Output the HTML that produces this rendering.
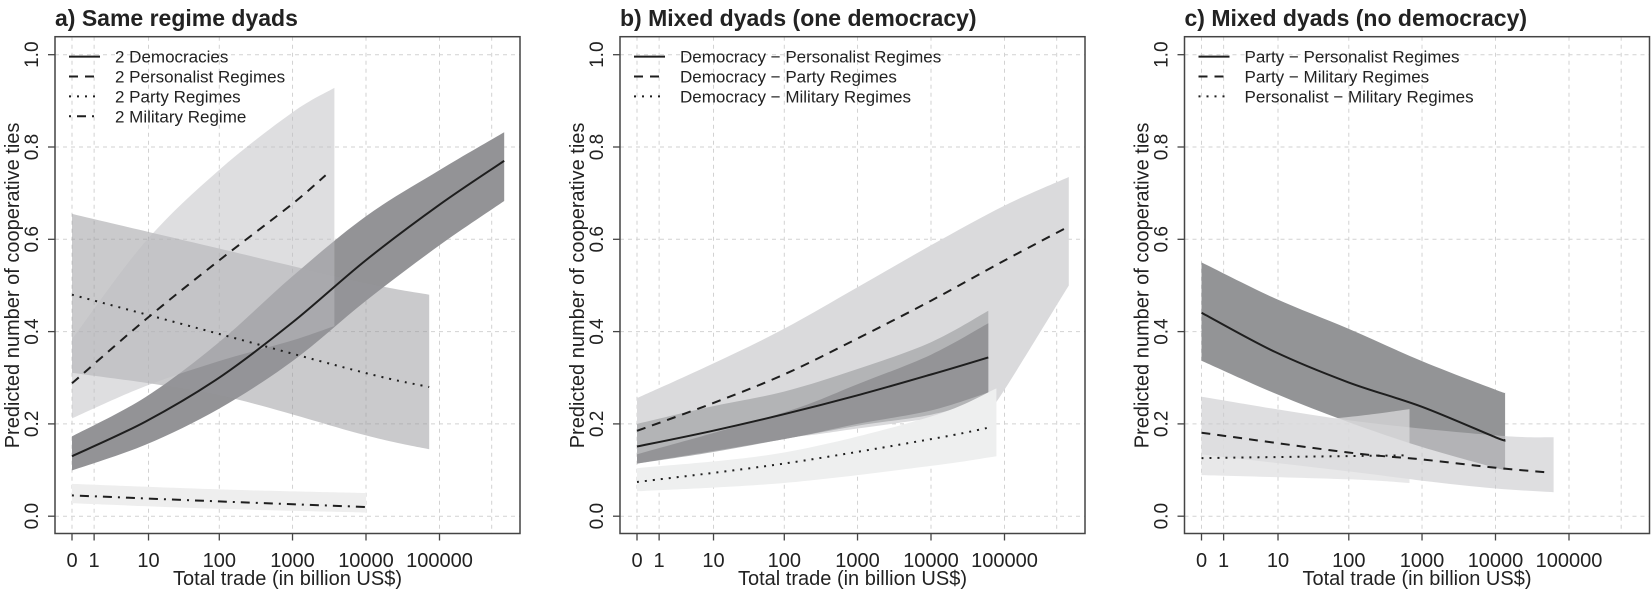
<!DOCTYPE html>
<html><head><meta charset="utf-8"><style>
html,body{margin:0;padding:0;background:#fff;}
svg{display:block;}
text{font-family:"Liberation Sans",Arial,sans-serif;fill:#222;}
</style></head><body>
<svg id="s" width="1651" height="593" viewBox="0 0 1651 593" xmlns="http://www.w3.org/2000/svg"></svg>
<script>
var S=document.getElementById('s'),out='';
var Y0=516.2,YS=461.5,D=73.5,BT=36.7,BB=533.5,BW=465;
function cr(pts){var d='M'+pts[0][0].toFixed(1)+' '+pts[0][1].toFixed(1);
for(var i=0;i<pts.length-1;i++){var p0=pts[i-1]||pts[i],p1=pts[i],p2=pts[i+1],p3=pts[i+2]||p2;
var c1x=p1[0]+(p2[0]-p0[0])/6,c1y=p1[1]+(p2[1]-p0[1])/6,c2x=p2[0]-(p3[0]-p1[0])/6,c2y=p2[1]-(p3[1]-p1[1])/6;
d+=' C'+c1x.toFixed(1)+' '+c1y.toFixed(1)+' '+c2x.toFixed(1)+' '+c2y.toFixed(1)+' '+p2[0].toFixed(1)+' '+p2[1].toFixed(1);}return d;}
function P(bx){var x0=bx+17;return function(a){return a.map(function(p){return [x0+p[0]*D,Y0-p[1]*YS];});};}
function band(bx,up,lo,fill){var m=P(bx),U=m(up),L=m(lo).reverse();
var d=cr(U)+' L'+L[0][0].toFixed(1)+' '+L[0][1].toFixed(1)+cr(L).replace(/^M[^C]*/,'')+' Z';
out+='<path d="'+d+'" fill="'+fill+'" stroke="none"/>';}
function line(bx,pts,dash){var m=P(bx);out+='<path d="'+cr(m(pts))+'" fill="none" stroke="#1e1e1e" stroke-width="2"'+(dash?' stroke-dasharray="'+dash+'"':'')+'/>';}
var US=[0,0.301,1.041,2.004,3.0004,4,5,5.71],XL=['0','1','10','100','1000','10000','100000'];
function frame(bx){var x0=bx+17;
var g='';
for(var i=0;i<US.length;i++){var x=x0+US[i]*D;g+='<line x1="'+x+'" y1="'+BT+'" x2="'+x+'" y2="'+BB+'" stroke="#d2d2d2" stroke-dasharray="4 4"/>';}
for(var v=0;v<=5;v++){var y=Y0-v*0.2*YS;g+='<line x1="'+bx+'" y1="'+y+'" x2="'+(bx+BW)+'" y2="'+y+'" stroke="#d2d2d2" stroke-dasharray="4 4"/>';}
return g;}
function deco(bx,title,leg){var x0=bx+17,g='';
g+='<rect x="'+bx+'" y="'+BT+'" width="'+BW+'" height="'+(BB-BT)+'" fill="none" stroke="#444" stroke-width="1.5"/>';
for(var i=0;i<7;i++){var x=x0+US[i]*D;g+='<line x1="'+x+'" y1="'+BB+'" x2="'+x+'" y2="'+(BB+7)+'" stroke="#444" stroke-width="1.3"/>';
g+='<text x="'+x+'" y="567" font-size="20" text-anchor="middle">'+XL[i]+'</text>';}
for(var v=0;v<=5;v++){var y=Y0-v*0.2*YS;g+='<line x1="'+(bx-7)+'" y1="'+y+'" x2="'+bx+'" y2="'+y+'" stroke="#444" stroke-width="1.3"/>';
g+='<text transform="translate('+(bx-17)+','+y+') rotate(-90)" font-size="19" text-anchor="middle">'+(v*0.2).toFixed(1)+'</text>';}
g+='<text x="'+(bx+BW/2)+'" y="585" font-size="20" text-anchor="middle">Total trade (in billion US$)</text>';
g+='<text transform="translate('+(bx-36)+','+(Y0-0.5*YS)+') rotate(-90)" font-size="20" text-anchor="middle">Predicted number of cooperative ties</text>';
g+='<text x="'+bx+'" y="26" font-size="23" font-weight="bold">'+title+'</text>';
var das=['','9 7','2 6','2 6 9 6'];
for(var j=0;j<leg.length;j++){var y=56.6+j*19.9;
g+='<line x1="'+(bx+14)+'" y1="'+y+'" x2="'+(bx+45)+'" y2="'+y+'" stroke="#1e1e1e" stroke-width="2"'+(das[j]?' stroke-dasharray="'+das[j]+'"':'')+'/>';
g+='<text x="'+(bx+60)+'" y="'+(y+6)+'" font-size="17">'+leg[j]+'</text>';}
return g;}
var A=55,B=620,C=1184.5;
out+=frame(A)+frame(B)+frame(C);
// Panel a
band(A,[[0,.173],[1,.258],[2,.377],[3,.52],[4,.65],[5,.75],[5.88,.832]],[[0,.099],[1,.155],[2,.233],[3,.336],[4,.467],[5,.587],[5.88,.683]],'#939396');
band(A,[[0,.655],[2,.58],[4,.505],[4.86,.48]],[[0,.311],[2,.262],[4,.175],[4.86,.145]],'rgba(150,150,153,0.5)');
band(A,[[0,.383],[1,.595],[2,.75],[3,.875],[3.57,.928]],[[0,.212],[1,.282],[2,.336],[3,.381],[3.57,.412]],'rgba(190,190,193,0.5)');
band(A,[[0,.07],[2,.058],[4,.05]],[[0,.028],[2,.016],[4,.008]],'#eeeeee');
line(A,[[0,.13],[1,.205],[2,.30],[3,.42],[4,.555],[5,.675],[5.88,.77]]);
line(A,[[0,.288],[1,.426],[2,.554],[3,.677],[3.45,.739]],'9 7');
line(A,[[0,.48],[2,.395],[4,.31],[4.86,.28]],'2 6');
line(A,[[0,.045],[2,.032],[4,.02]],'2 6 9 6');
// Panel b
band(B,[[0,.256],[1,.328],[2,.406],[3,.496],[4,.587],[5,.673],[5.875,.735]],[[0,.15],[2,.17],[3,.19],[4,.212],[4.7,.228],[4.9,.25],[5.875,.50]],'#dadadc');
band(B,[[0,.2],[1,.237],[2,.27],[3,.319],[4,.377],[4.78,.445]],[[0,.114],[1,.138],[2,.167],[3,.196],[4,.22],[4.78,.253]],'#b3b4b6');
band(B,[[0,.134],[2,.225],[3,.286],[4,.35],[4.78,.418]],[[0,.114],[2,.167],[3,.2],[4,.229],[4.78,.268]],'#949497');
band(B,[[0,.104],[2,.138],[4,.216],[4.89,.277]],[[0,.054],[2,.072],[4,.109],[4.89,.13]],'#eeefef');
line(B,[[0,.151],[1,.184],[2,.221],[3,.262],[4,.307],[4.78,.344]]);
line(B,[[0,.185],[1,.243],[2,.307],[3,.385],[4,.467],[5,.554],[5.875,.628]],'9 7');
line(B,[[0,.074],[2,.114],[4,.167],[4.82,.193]],'2 6');
// Panel c
band(C,[[0,.55],[1,.472],[2,.406],[3,.336],[4,.274],[4.13,.268]],[[0,.337],[1,.266],[2,.204],[3,.15],[4,.105],[4.13,.101]],'#939496');
band(C,[[0,.259],[2,.208],[4,.175],[4.79,.171]],[[0,.134],[2,.097],[3,.077],[4,.06],[4.79,.052]],'rgba(200,200,203,0.6)');
band(C,[[0,.183],[2,.215],[2.83,.232]],[[0,.089],[2,.08],[2.83,.072]],'rgba(222,222,224,0.7)');
line(C,[[0,.441],[1,.356],[2,.29],[3,.237],[4,.171],[4.13,.165]]);
line(C,[[0,.181],[2,.138],[3,.123],[4,.105],[4.71,.095]],'9 7');
line(C,[[0,.126],[2.83,.132]],'2 6');
out+=deco(A,'a) Same regime dyads',['2 Democracies','2 Personalist Regimes','2 Party Regimes','2 Military Regime']);
out+=deco(B,'b) Mixed dyads (one democracy)',['Democracy − Personalist Regimes','Democracy − Party Regimes','Democracy − Military Regimes']);
out+=deco(C,'c) Mixed dyads (no democracy)',['Party − Personalist Regimes','Party − Military Regimes','Personalist − Military Regimes']);
S.innerHTML=out;
</script>
</body></html>
